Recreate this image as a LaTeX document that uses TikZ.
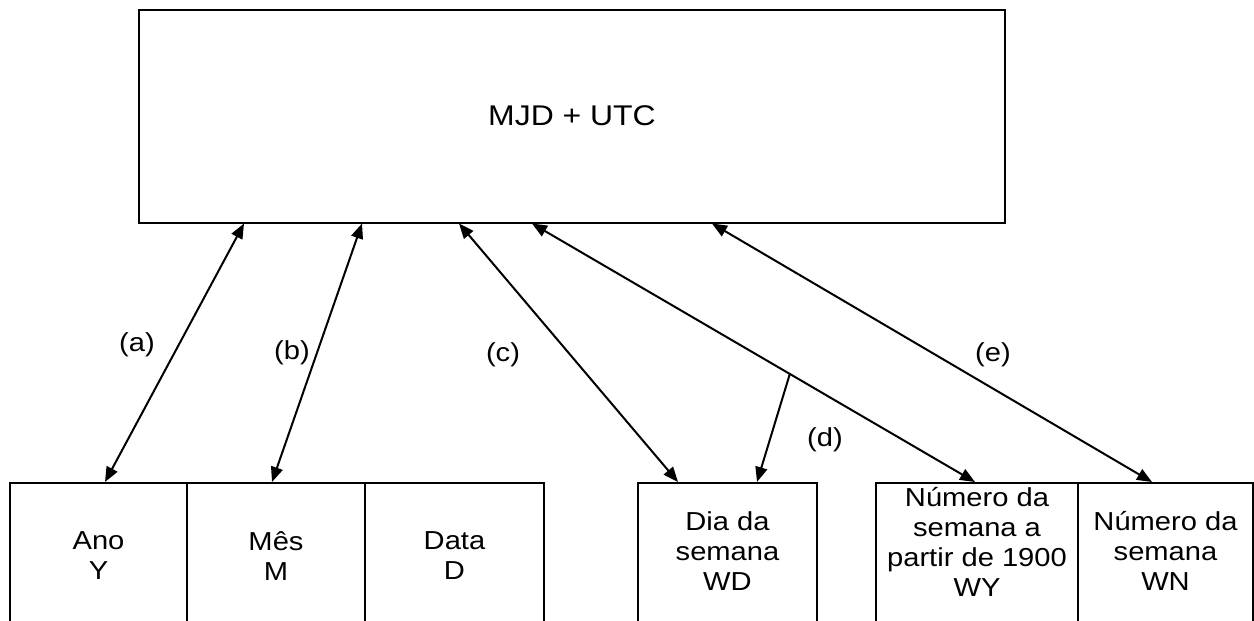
\documentclass[tikz,border=0pt]{standalone}
\usepackage{fontspec}
\setmainfont[FakeStretch=1.12]{Liberation Sans}
\usetikzlibrary{arrows.meta,calc}
\begin{document}
\begin{tikzpicture}[x=1pt,y=-1pt,
  box/.style={draw,line width=2pt,inner sep=0pt,anchor=north west},
  txt/.style={font=\fontsize{26}{30}\selectfont,align=center,inner sep=0pt},
  lbl/.style={font=\fontsize{26}{30}\selectfont,inner sep=0pt},
  link/.style={line width=2pt,{Triangle[length=15pt,width=12pt]}-{Triangle[length=15pt,width=12pt]}},
  one/.style={line width=2pt,-{Triangle[length=15pt,width=12pt]}}]
\useasboundingbox (0,0) rectangle (1254,621);
\clip (0,0) rectangle (1254,621);
\node[draw,line width=2pt,minimum width=866pt,minimum height=213pt,inner sep=0pt,font=\fontsize{28.5}{32}\selectfont] (top) at (572,116) {MJD + UTC};
% bottom boxes
\node[box,minimum width=177pt,minimum height=170pt] (ano) at (9,482) {};
\node[box,minimum width=178pt,minimum height=170pt] (mes) at (186,482) {};
\node[box,minimum width=179pt,minimum height=170pt] (data) at (364,482) {};
\node[box,minimum width=179pt,minimum height=170pt] (dia) at (637,482) {};
\node[box,minimum width=202pt,minimum height=170pt] (wy) at (875,482) {};
\node[box,minimum width=175pt,minimum height=170pt] (wn) at (1077,482) {};
% texts
\node[txt] (tano) at ($(ano.north)+(0,74)$) {Ano\\Y};
\node[txt] (tmes) at ($(mes.north)+(0,74)$) {Mês\\M};
\node[txt] (tdata) at ($(data.north)+(0,74)$) {Data\\D};
\node[txt] (tdia) at ($(dia.north)+(0,69)$) {Dia da\\semana\\WD};
\node[txt] (twy) at ($(wy.north)+(0,60)$) {Número da\\semana a\\partir de 1900\\WY};
\node[txt] (twn) at ($(wn.north)+(0,69)$) {Número da\\semana\\WN};
% connectors
\draw[link] ([xshift=106pt]top.south west) -- ([xshift=96pt]ano.north west);
\draw[link] ([xshift=224pt]top.south west) -- ([xshift=86pt]mes.north west);
\draw[link] ([xshift=321pt]top.south west) -- ([xshift=41pt]dia.north west);
\draw[link] ([xshift=394pt]top.south west) -- ([xshift=100pt]wy.north west);
\draw[link] ([xshift=574pt]top.south west) -- ([xshift=75pt]wn.north west);
\coordinate (dj) at ($([xshift=394pt]top.south west)!0.582!([xshift=100pt]wy.north west)$);
\draw[one] (dj) -- ([xshift=120pt]dia.north west);
% labels
\node[lbl] (la) at (137,345) {(a)};
\node[lbl] (lb) at (292,353) {(b)};
\node[lbl] (lc) at (503,355) {(c)};
\node[lbl] (ld) at (825,440) {(d)};
\node[lbl] (le) at (993,355) {(e)};
\end{tikzpicture}
\end{document}
